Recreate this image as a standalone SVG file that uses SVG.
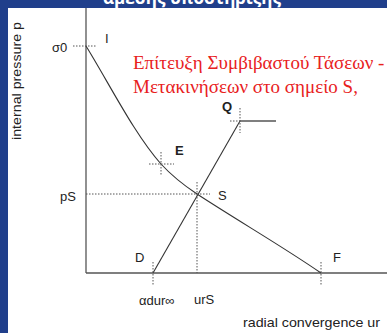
<svg xmlns="http://www.w3.org/2000/svg" width="387" height="333" viewBox="0 0 387 333">
<style>
.lbl{font-family:"Liberation Sans",Arial,sans-serif;font-size:13px;fill:#222}
.b{font-weight:bold}
.dot{stroke:#555;stroke-width:1;stroke-dasharray:1.5,1.5;fill:none}
.ln{stroke:#333;stroke-width:1.1;fill:none}
.red{font-family:"Liberation Serif","Times New Roman",serif;font-size:19px;fill:#e8211d}
</style>
<rect x="0" y="0" width="387" height="333" fill="#ffffff"/>
<rect x="0" y="0" width="8" height="333" fill="#203f8b"/>
<rect x="0" y="0" width="387" height="8" fill="#203f8b"/>
<text x="192" y="4" text-anchor="middle" font-family="'Open Sans','Noto Sans',sans-serif" font-weight="bold" font-size="17" fill="#ffffff">άμεσης υποστήριξης</text>
<g id="axes">
<line x1="86" y1="8" x2="86" y2="273" stroke="#555" stroke-width="1.3"/>
<line x1="86" y1="273" x2="387" y2="273" stroke="#555" stroke-width="1.3"/>
</g>
<g id="connectors">
<path class="ln" d="M86,46 C110,85 135,135 161,164 C172,176 185,186 197,194 C240,222 285,248 321,273"/>
<line class="ln" x1="153" y1="273" x2="240" y2="121"/>
<line x1="240" y1="121" x2="276" y2="121" stroke="#555" stroke-width="1.5"/>
<line class="dot" x1="73" y1="46" x2="97" y2="46"/>
<line class="dot" x1="149" y1="164" x2="174" y2="164"/>
<line class="dot" x1="161" y1="152" x2="161" y2="175"/>
<line class="dot" x1="86" y1="194" x2="210" y2="194"/>
<line class="dot" x1="197" y1="182" x2="197" y2="273"/>
<line class="dot" x1="230" y1="121" x2="240" y2="121"/>
<line class="dot" x1="240" y1="108" x2="240" y2="133"/>
<line class="dot" x1="153" y1="262" x2="153" y2="285"/>
<line class="dot" x1="321" y1="262" x2="321" y2="285"/>
</g>
<g id="node-sigma0"><text class="lbl" x="52" y="52">σ0</text></g>
<g id="node-I"><text class="lbl" x="105" y="43">I</text></g>
<g id="node-E"><text class="lbl b" x="175" y="155">E</text></g>
<g id="node-Q"><text class="lbl b" x="222" y="111">Q</text></g>
<g id="node-S"><text class="lbl" x="218" y="200">S</text></g>
<g id="node-pS"><text class="lbl" x="60" y="201">pS</text></g>
<g id="node-D"><text class="lbl" x="135" y="262">D</text></g>
<g id="node-F"><text class="lbl" x="333" y="262">F</text></g>
<g id="node-adur"><text class="lbl" x="139" y="305" font-size="14">αdur∞</text></g>
<g id="node-urS"><text class="lbl" x="194" y="304" font-size="14">urS</text></g>
<g id="xlabel"><text class="lbl" x="243" y="327" textLength="137" lengthAdjust="spacingAndGlyphs">radial convergence ur</text></g>
<g id="ylabel"><text class="lbl" transform="translate(21,140) rotate(-90)" textLength="118" lengthAdjust="spacingAndGlyphs">internal pressure p</text></g>
<g id="note">
<text class="red" x="133" y="69">Επίτευξη Συμβιβαστού Τάσεων -</text>
<text class="red" x="133" y="93">Μετακινήσεων στο σημείο S,</text>
</g>
</svg>
